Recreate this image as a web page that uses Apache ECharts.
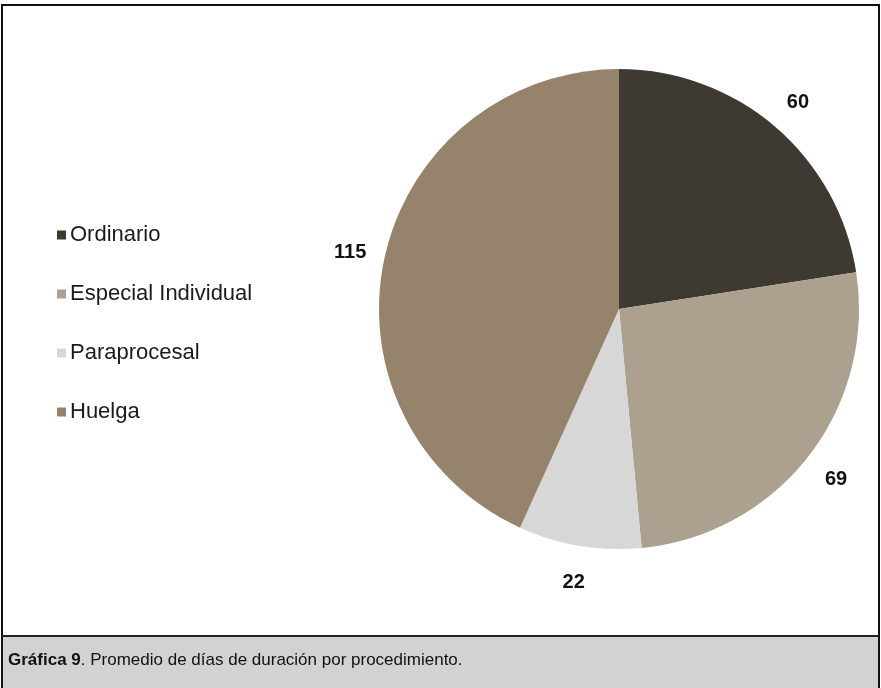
<!DOCTYPE html>
<html>
<head>
<meta charset="utf-8">
<script src="https://cdn.jsdelivr.net/npm/echarts@6/dist/echarts.min.js"></script>
<style>
html,body{margin:0;padding:0;background:#fff;}
#c{width:881px;height:688px;}
</style>
</head>
<body>
<div id="c"></div>
<script>
const categories = ['Ordinario', 'Especial Individual', 'Paraprocesal', 'Huelga'];
const values = [60, 69, 22, 115];
const colors = ['#3e3a32', '#aca08f', '#d7d7d7', '#96836b'];
const captionBold = 'Gráfica 9';
const captionRest = '. Promedio de días de duración por procedimiento.';

const data = categories.map((n, i) => ({ name: n, value: values[i], itemStyle: { color: colors[i] } }));
const labelData = categories.map((n, i) => ({ name: n, value: values[i] }));

const FONT = '"Liberation Sans", Arial, sans-serif';
const chart = echarts.init(document.getElementById('c'), null, { renderer: 'canvas' });
chart.setOption({
  backgroundColor: '#ffffff',
  animation: false,
  textStyle: { fontFamily: FONT },
  legend: {
    orient: 'vertical',
    left: 57,
    top: 223,
    padding: 0,
    itemWidth: 9,
    itemHeight: 9,
    itemGap: 35,
    icon: 'rect',
    data: categories,
    textStyle: { fontSize: 22, lineHeight: 24, color: '#1a1a1a', fontFamily: FONT, padding: [0, 0, 0, -1] },
    selectedMode: false
  },
  series: [
    {
      type: 'pie',
      center: [619, 309],
      radius: [0, 240],
      startAngle: 90,
      clockwise: true,
      silent: true,
      label: { show: false },
      labelLine: { show: false },
      data: data
    },
    {
      type: 'pie',
      center: [619, 311],
      radius: [261, 283],
      startAngle: 90,
      clockwise: true,
      silent: true,
      itemStyle: { color: 'rgba(0,0,0,0)' },
      label: {
        show: true,
        position: 'inside',
        formatter: '{c}',
        fontSize: 20,
        fontWeight: 'bold',
        color: '#111',
        fontFamily: FONT
      },
      labelLine: { show: false },
      data: labelData
    }
  ],
  graphic: [
    {
      type: 'rect',
      shape: { x: 2, y: 637, width: 877, height: 51 },
      style: { fill: '#d2d2d2' },
      silent: true
    },
    {
      type: 'rect',
      shape: { x: 2, y: 5, width: 877, height: 700 },
      style: { fill: null, stroke: '#111', lineWidth: 2 },
      silent: true
    },
    {
      type: 'line',
      shape: { x1: 2, y1: 636, x2: 879, y2: 636 },
      style: { stroke: '#222', lineWidth: 2 },
      silent: true
    },
    {
      type: 'text',
      left: 8,
      top: 652,
      style: {
        text: '{b|' + captionBold + '}{r|' + captionRest + '}',
        rich: {
          b: { fontSize: 17, fontWeight: 'bold', fill: '#111', fontFamily: FONT },
          r: { fontSize: 17, fill: '#111', fontFamily: FONT }
        }
      },
      silent: true
    }
  ]
});
</script>
</body>
</html>
